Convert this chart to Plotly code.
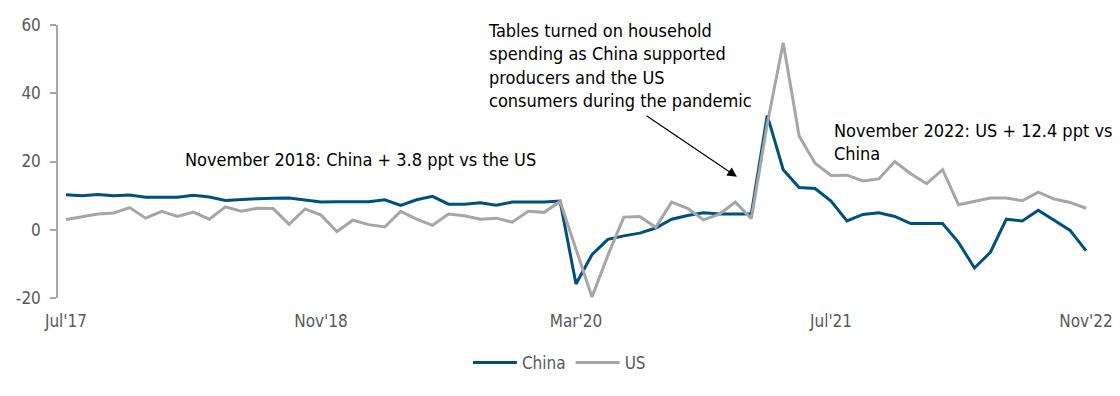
import pandas as pd
import plotly.graph_objects as go

months = [d.strftime("%b'%y") for d in pd.date_range("2017-07-01", periods=65, freq="MS")]

china = [10.25, 9.96, 10.3, 9.96, 10.2, 9.5, 9.5, 9.5, 10.1, 9.6,
         8.6, 8.9, 9.1, 9.2, 9.3, 8.7, 8.1, 8.2, 8.2, 8.2,
         8.8, 7.1, 8.8, 9.8, 7.5, 7.5, 7.9, 7.2, 8.1, 8.1,
         8.1, 8.4, -15.9, -7.3, -2.8, -1.8, -1.0, 0.5, 3.1, 4.2,
         5.0, 4.6, 4.6, 4.6, 33.5, 17.6, 12.4, 12.1, 8.4, 2.6,
         4.5, 5.0, 3.9, 1.8, 1.8, 1.8, -3.7, -11.2, -6.6, 3.1,
         2.6, 5.7, 2.8, -0.2, -6.1]

us = [3.0, 3.9, 4.6, 4.9, 6.5, 3.4, 5.4, 3.9, 5.2, 3.1,
      6.7, 5.4, 6.3, 6.2, 1.6, 6.1, 4.3, -0.5, 2.8, 1.5,
      0.8, 5.4, 3.1, 1.3, 4.6, 4.1, 3.1, 3.4, 2.2, 5.4,
      5.1, 8.3, -5.8, -19.7, -7.5, 3.7, 3.9, 0.7, 8.1, 6.3,
      2.9, 4.6, 8.1, 3.2, 31.0, 54.8, 27.5, 19.5, 15.9, 16.0,
      14.3, 14.9, 20.0, 16.4, 13.5, 17.6, 7.3, 8.3, 9.3, 9.3,
      8.5, 11.0, 9.0, 8.0, 6.3]

tick_labels = ["Jul'17", "Nov'18", "Mar'20", "Jul'21", "Nov'22"]
y_ticks = [-20, 0, 20, 40, 60]
y_tick_text = ["-20", "0", "20", "40", "60"]

FONT = "DejaVu Sans Condensed, Open Sans, sans-serif"
BLUE = "#00507F"
GREY = "#A6A6A6"
AXIS = "#A6A6A6"
TXT = "#595959"

x = list(range(len(months)))
tick_idx = [months.index(t) for t in tick_labels]

fig = go.Figure()
fig.add_trace(go.Scatter(x=x, y=china, name="China", mode="lines",
                         line=dict(color=BLUE, width=3), customdata=months,
                         hovertemplate="%{customdata}: %{y}<extra>China</extra>"))
fig.add_trace(go.Scatter(x=x, y=us, name="US", mode="lines",
                         line=dict(color=GREY, width=3), customdata=months,
                         hovertemplate="%{customdata}: %{y}<extra>US</extra>"))

fig.update_layout(
    width=1112, height=388,
    margin=dict(l=50, r=26, t=17, b=98, autoexpand=False),
    paper_bgcolor="white", plot_bgcolor="white",
    font=dict(family=FONT, size=17, color=TXT),
    showlegend=True,
    legend=dict(orientation="h", x=0.484, xanchor="center", y=-0.238, yanchor="middle",
                font=dict(size=17, color=TXT), itemwidth=44, traceorder="normal"),
    xaxis=dict(range=[-0.5, len(months) - 0.5], tickmode="array",
               tickvals=tick_idx, ticktext=tick_labels, ticks="",
               showline=False, showgrid=False, zeroline=False, automargin=False,
               ticklabelstandoff=11,
               tickfont=dict(size=17, color=TXT)),
    xaxis2=dict(overlaying="x", anchor="free", position=0.25,
                range=[-0.5, len(months) - 0.5], tickmode="array",
                tickvals=[i - 0.5 for i in tick_idx], ticks="outside", ticklen=7,
                tickcolor=AXIS, tickwidth=1.2, showticklabels=False, automargin=False,
                showline=True, linecolor=AXIS, linewidth=1.2, showgrid=False, zeroline=False),
    yaxis=dict(range=[-20, 60], tickmode="array", tickvals=y_ticks, ticktext=y_tick_text,
               ticks="outside", ticklen=6, tickcolor=AXIS, tickwidth=1.5,
               showline=True, linecolor=AXIS, linewidth=1.5, automargin=False,
               ticklabelstandoff=6,
               showgrid=False, zeroline=False, tickfont=dict(size=17, color=TXT)),
)

fig.add_annotation(xref="paper", yref="paper", x=0.1207, y=0.5055, xanchor="left", yanchor="middle",
                   text="November 2018: China + 3.8 ppt vs the US", showarrow=False,
                   font=dict(size=18, color="black"), align="left")
fig.add_annotation(xref="paper", yref="paper", x=0.413, y=0.853, xanchor="left", yanchor="middle",
                   text="Tables turned on household<br>spending as China supported<br>producers and the US<br>consumers during the pandemic",
                   showarrow=False, font=dict(size=18, color="black"), align="left")
fig.add_annotation(xref="paper", yref="paper", x=0.747, y=0.571, xanchor="left", yanchor="middle",
                   text="November 2022: US + 12.4 ppt vs<br>China", showarrow=False,
                   font=dict(size=18, color="black"), align="left")
fig.add_annotation(xref="x", yref="y", x=42.1, y=15.5, ax=-92, ay=-62, text="",
                   showarrow=True, arrowhead=2, arrowsize=1.6, arrowwidth=1.2, arrowcolor="black")

fig.write_html("out.html")
